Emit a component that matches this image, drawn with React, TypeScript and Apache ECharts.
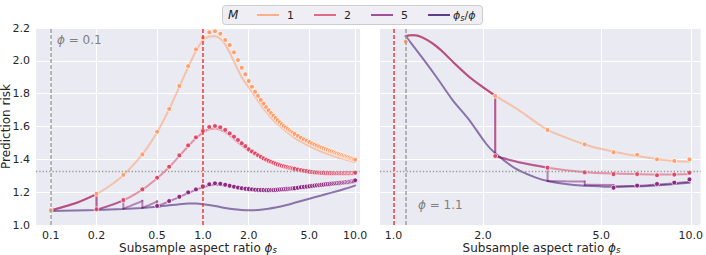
import React, { useEffect, useRef } from 'react';
import * as echarts from 'echarts';

const C1 = '#fe9f6d';
const C2 = '#de4968';
const C5 = '#8c2981';
const CR = '#3b0f70';
const FONT = 'DejaVu Sans';
const PHI = '\u03D5';

// ---------- left panel (phi = 0.1) ----------
const phiL = 0.1;
const tickValsL = [0.1, 0.2, 0.5, 1.0, 2.0, 5.0, 10.0];
const tickValsR = [1.0, 2.0, 5.0, 10.0];
const yTicks = [1.0, 1.2, 1.4, 1.6, 1.8, 2.0, 2.2];

const simPhiL = [
  0.1, 0.2, 0.3, 0.4, 0.5, 0.6, 0.7, 0.8, 0.9, 1.0,
  1.1, 1.2, 1.3, 1.4, 1.5, 1.6, 1.7, 1.8, 1.9, 2.0,
  2.1, 2.2, 2.3, 2.4, 2.5, 2.6, 2.7, 2.8, 2.9, 3.0,
  3.1, 3.2, 3.3, 3.4, 3.5, 3.6, 3.7, 3.8, 3.9, 4.0,
  4.2, 4.4, 4.6, 4.8, 5.0, 5.2, 5.4, 5.6, 5.8, 6.0,
  6.2, 6.4, 6.6, 6.8, 7.0, 7.2, 7.4, 7.6, 7.8, 8.0,
  8.2, 8.4, 8.6, 8.8, 9.0, 9.2, 9.4, 9.6, 9.8, 10.0,
];
const simL_M1 = [
  1.090, 1.190, 1.305, 1.430, 1.568, 1.707, 1.847, 1.968, 2.070, 2.141,
  2.174, 2.180, 2.165, 2.127, 2.096, 2.052, 2.005, 1.958, 1.918, 1.877,
  1.842, 1.812, 1.786, 1.762, 1.739, 1.718, 1.699, 1.682, 1.666, 1.651,
  1.638, 1.626, 1.614, 1.603, 1.594, 1.585, 1.577, 1.569, 1.562, 1.555,
  1.543, 1.532, 1.522, 1.513, 1.505, 1.497, 1.490, 1.484, 1.478, 1.472,
  1.467, 1.462, 1.457, 1.452, 1.448, 1.444, 1.440, 1.436, 1.432, 1.429,
  1.425, 1.422, 1.419, 1.416, 1.413, 1.410, 1.407, 1.404, 1.401, 1.398,
];
const simL_M2 = [
  null, 1.096, 1.152, 1.217, 1.288, 1.355, 1.424, 1.485, 1.534, 1.573,
  1.597, 1.603, 1.595, 1.579, 1.558, 1.538, 1.518, 1.498, 1.480, 1.461,
  1.448, 1.436, 1.425, 1.415, 1.406, 1.398, 1.391, 1.385, 1.379, 1.374,
  1.369, 1.365, 1.361, 1.358, 1.355, 1.352, 1.349, 1.347, 1.344, 1.342,
  1.338, 1.334, 1.331, 1.328, 1.325, 1.323, 1.321, 1.320, 1.319, 1.318,
  1.318, 1.317, 1.317, 1.316, 1.316, 1.315, 1.315, 1.315, 1.315, 1.315,
  1.315, 1.315, 1.316, 1.316, 1.316, 1.316, 1.317, 1.317, 1.317, 1.318,
];
const simL_M5 = [
  null, null, null, null, 1.116, 1.146, 1.172, 1.199, 1.217, 1.235,
  1.248, 1.254, 1.251, 1.245, 1.239, 1.233, 1.228, 1.224, 1.221, 1.219,
  1.217, 1.215, 1.214, 1.213, 1.213, 1.212, 1.212, 1.213, 1.213, 1.214,
  1.215, 1.216, 1.217, 1.218, 1.219, 1.220, 1.221, 1.222, 1.223, 1.224,
  1.227, 1.230, 1.232, 1.234, 1.236, 1.238, 1.240, 1.242, 1.243, 1.245,
  1.246, 1.248, 1.249, 1.250, 1.252, 1.253, 1.254, 1.255, 1.256, 1.257,
  1.258, 1.259, 1.260, 1.261, 1.262, 1.263, 1.265, 1.266, 1.267, 1.272,
];

const thPhiL_M1 = [0.1, 0.15, 0.2, 0.25, 0.3, 0.4, 0.5, 0.6, 0.7, 0.8, 0.9, 1.0, 1.1, 1.2, 1.3, 1.4, 1.5, 1.6, 1.8, 2.0, 2.5, 3.0, 4.0, 5.0, 6.0, 7.0, 8.0, 10.0];
const thL_M1 = [1.088, 1.137, 1.188, 1.245, 1.303, 1.430, 1.565, 1.705, 1.842, 1.962, 2.060, 2.125, 2.148, 2.150, 2.135, 2.100, 2.050, 1.995, 1.900, 1.838, 1.710, 1.625, 1.530, 1.480, 1.447, 1.424, 1.407, 1.382];
const thPhiL_M2 = [0.1, 0.15, 0.2, 0.2, 0.3, 0.4, 0.5, 0.6, 0.7, 0.8, 0.9, 1.0, 1.1, 1.2, 1.3, 1.4, 1.5, 1.7, 2.0, 2.5, 3.0, 4.0, 5.0, 6.0, 7.0, 8.0, 10.0];
const thL_M2 = [1.088, 1.137, 1.188, 1.092, 1.150, 1.215, 1.285, 1.352, 1.420, 1.480, 1.528, 1.563, 1.583, 1.588, 1.580, 1.565, 1.545, 1.503, 1.452, 1.400, 1.368, 1.335, 1.318, 1.311, 1.308, 1.307, 1.310];
const thPhiL_M5 = [0.1, 0.15, 0.2, 0.2, 0.25, 0.3, 0.3, 0.35, 0.4, 0.4, 0.45, 0.5, 0.5, 0.6, 0.7, 0.8, 0.9, 1.0, 1.1, 1.2, 1.3, 1.5, 1.7, 2.0, 2.5, 3.0, 4.0, 5.0, 7.0, 10.0];
const thL_M5 = [1.088, 1.137, 1.188, 1.092, 1.121, 1.150, 1.100, 1.124, 1.147, 1.105, 1.124, 1.144, 1.114, 1.144, 1.170, 1.195, 1.214, 1.229, 1.240, 1.245, 1.243, 1.234, 1.224, 1.214, 1.208, 1.208, 1.218, 1.229, 1.246, 1.263];
const thPhiL_R = [0.1, 0.2, 0.3, 0.4, 0.5, 0.6, 0.7, 0.8, 0.9, 1.0, 1.2, 1.4, 1.6, 1.8, 2.0, 2.3, 2.7, 3.0, 3.5, 4.0, 5.0, 6.0, 7.0, 8.0, 9.0, 10.0];
const thL_R = [1.086, 1.092, 1.098, 1.104, 1.111, 1.120, 1.127, 1.131, 1.131, 1.127, 1.116, 1.104, 1.096, 1.092, 1.090, 1.092, 1.099, 1.106, 1.120, 1.135, 1.160, 1.180, 1.197, 1.212, 1.226, 1.240];

// ---------- right panel (phi = 1.1) ----------
const phiR = 1.1;
const simPhiR = [1.1, 2.2, 3.3, 4.4, 5.5, 6.6, 7.7, 8.8, 9.9];
const simR_M1 = [2.117, 1.786, 1.579, 1.491, 1.443, 1.428, 1.400, 1.390, 1.400];
const simR_M2 = [null, 1.420, 1.349, 1.321, 1.310, 1.310, 1.303, 1.307, 1.318];
const simR_M5 = [null, null, null, null, 1.227, 1.240, 1.250, 1.258, 1.278];

const thPhiR_M1 = [1.1, 1.14, 1.18, 1.25, 1.35, 1.45, 1.6, 1.8, 2.0, 2.2, 2.64, 3.3, 4.4, 5.5, 6.6, 7.7, 8.8, 9.9];
const thR_M1 = [2.151, 2.156, 2.156, 2.143, 2.108, 2.063, 1.987, 1.902, 1.840, 1.788, 1.700, 1.579, 1.490, 1.446, 1.420, 1.402, 1.390, 1.385];
const thPhiR_M2 = [1.1, 1.14, 1.18, 1.25, 1.35, 1.45, 1.6, 1.8, 2.0, 2.2, 2.2, 2.6, 3.3, 4.4, 5.5, 6.6, 7.7, 8.8, 9.9];
const thR_M2 = [2.151, 2.156, 2.156, 2.143, 2.108, 2.063, 1.987, 1.902, 1.840, 1.788, 1.420, 1.385, 1.349, 1.322, 1.313, 1.310, 1.308, 1.308, 1.310];
const thPhiR_M5 = [1.1, 1.14, 1.18, 1.25, 1.35, 1.45, 1.6, 1.8, 2.0, 2.2, 2.2, 2.6, 3.3, 3.3, 3.8, 4.4, 4.4, 5.5, 5.5, 6.6, 7.7, 8.8, 9.9];
const thR_M5 = [2.151, 2.156, 2.156, 2.143, 2.108, 2.063, 1.987, 1.902, 1.840, 1.788, 1.420, 1.385, 1.349, 1.268, 1.266, 1.265, 1.245, 1.243, 1.233, 1.238, 1.246, 1.254, 1.263];
const thPhiR_R = [1.1, 1.25, 1.394, 1.582, 1.798, 2.044, 2.2, 2.57, 3.0, 3.3, 3.8, 4.28, 5.0, 5.5, 6.5, 7.15, 8.5, 9.9];
const thR_R = [2.151, 2.02, 1.903, 1.761, 1.640, 1.498, 1.437, 1.345, 1.290, 1.268, 1.250, 1.240, 1.235, 1.233, 1.236, 1.238, 1.247, 1.258];

const refRisk = 1.333;
const interpLine = 1.0;

const lg = (v: number) => Math.log10(v);
const pts = (xs: number[], ys: (number | null)[]) =>
  xs.map((x, i) => (ys[i] == null ? null : [lg(x), ys[i] as number])).filter((p) => p !== null) as number[][];

// split a curve at vertical jumps (repeated x) so each smooth piece is drawn alone
function segments(xs: number[], ys: number[]) {
  const p = pts(xs, ys);
  const out: { data: number[][]; vertical: boolean }[] = [];
  let cur: number[][] = [p[0]];
  for (let i = 1; i < p.length; i++) {
    if (xs[i] === xs[i - 1]) {
      if (cur.length > 1) out.push({ data: cur, vertical: false });
      out.push({ data: [p[i - 1], p[i]], vertical: true });
      cur = [p[i]];
    } else cur.push(p[i]);
  }
  if (cur.length > 1) out.push({ data: cur, vertical: false });
  return out;
}

function lineS(xs: number[], ys: number[], color: string, g: number, width = 2) {
  return segments(xs, ys).map((sg) => ({
    type: 'line', xAxisIndex: g, yAxisIndex: g, data: sg.data, symbol: 'none', silent: true, z: 3,
    smooth: sg.vertical ? false : 0.2,
    lineStyle: { color, width, opacity: 0.55, cap: 'round' },
  }));
}
function dotS(xs: number[], ys: (number | null)[], color: string, g: number) {
  return {
    type: 'scatter', xAxisIndex: g, yAxisIndex: g, data: pts(xs, ys), symbolSize: 4.8, silent: true, z: 4,
    itemStyle: { color, borderColor: '#ffffff', borderWidth: 0.7, opacity: 1 },
  };
}
function refS(g: number, phi: number) {
  return {
    type: 'line', xAxisIndex: g, yAxisIndex: g, data: [], silent: true, z: 5,
    markLine: {
      silent: true, symbol: 'none', label: { show: false }, animation: false,
      data: [
        { xAxis: lg(phi), lineStyle: { color: '#a0a0a0', type: [4, 2], width: 1.5, opacity: 1 } },
        { xAxis: lg(interpLine), lineStyle: { color: '#f23636', type: [4, 2], width: 1.5, opacity: 1 } },
        { yAxis: refRisk, lineStyle: { color: '#999999', type: [1.3, 2], width: 1.3, opacity: 1 } },
      ],
    },
  };
}

function xAx(g: number, min: number, max: number, ticks: number[]) {
  const cv = ticks.map(lg);
  return {
    type: 'value', gridIndex: g, min, max,
    axisLine: { show: false },
    axisTick: { show: false, customValues: cv },
    axisLabel: {
      customValues: cv, formatter: (v: number) => Math.pow(10, v).toFixed(1),
      color: '#262626', fontSize: 11, fontFamily: FONT, margin: 5, lineHeight: 11,
    },
    splitLine: { show: true, lineStyle: { color: '#ffffff', width: 1 } },
  };
}
function yAx(g: number, showLabels: boolean) {
  return {
    type: 'value', gridIndex: g, min: yTicks[0], max: yTicks[yTicks.length - 1], interval: 0.2,
    axisLine: { show: false }, axisTick: { show: false },
    axisLabel: { show: showLabels, formatter: (v: number) => v.toFixed(1), color: '#262626', fontSize: 11, fontFamily: FONT, margin: 6 },
    splitLine: { show: true, lineStyle: { color: '#ffffff', width: 1 } },
  };
}

const richBase = {
  a: { fontSize: 12, fontFamily: FONT, fill: '#262626', lineHeight: 12 },
  p: { fontSize: 12, fontFamily: FONT, fontStyle: 'italic', fill: '#262626', lineHeight: 12 },
  s: { fontSize: 8.5, fontFamily: FONT, fontStyle: 'italic', fill: '#262626', verticalAlign: 'bottom', lineHeight: 13 },
};

export default function App() {
  const ref = useRef<HTMLDivElement>(null);
  useEffect(() => {
    if (!ref.current) return;
    const chart = echarts.init(ref.current, undefined, { renderer: 'svg' });
    const legendItems = [
      { label: '1', color: C1, x: 257 },
      { label: '2', color: C2, x: 314 },
      { label: '5', color: C5, x: 371 },
    ];
    const annot = (x: number, y: number, val: number) => ({
      type: 'text', x, y, z: 5,
      style: {
        text: '{p|' + PHI + '}{a| = ' + val.toFixed(1) + '}', verticalAlign: 'middle',
        rich: {
          p: { fontSize: 12, fontFamily: FONT, fontStyle: 'italic', fill: '#808080' },
          a: { fontSize: 12, fontFamily: FONT, fill: '#808080' },
        },
      },
    });
    const graphics: any[] = [
      {
        type: 'rect', shape: { x: 222.5, y: 5.5, width: 260, height: 19, r: 3 },
        style: { fill: '#eeeef4', stroke: '#cccccc', lineWidth: 1 }, z: 10,
      },
      {
        type: 'text', x: 228, y: 15, z: 11,
        style: { text: 'M', fontSize: 12, fontFamily: FONT, fontStyle: 'italic', fill: '#262626', verticalAlign: 'middle' },
      },
      ...legendItems.flatMap((it) => [
        { type: 'line', z: 11, shape: { x1: it.x, y1: 15, x2: it.x + 22, y2: 15 }, style: { stroke: it.color, lineWidth: 1.6 } },
        { type: 'text', z: 11, x: it.x + 30, y: 15, style: { text: it.label, fontSize: 11, fontFamily: FONT, fill: '#262626', verticalAlign: 'middle' } },
      ]),
      { type: 'line', z: 11, shape: { x1: 428, y1: 15, x2: 450, y2: 15 }, style: { stroke: CR, lineWidth: 1.6 } },
      {
        type: 'text', z: 11, x: 453, y: 15,
        style: {
          text: '{p|' + PHI + '}{s|s}{a|/}{p|' + PHI + '}', verticalAlign: 'middle',
          rich: {
            a: { fontSize: 11, fontFamily: FONT, fill: '#262626' },
            p: { fontSize: 11, fontFamily: FONT, fontStyle: 'italic', fill: '#262626' },
            s: { fontSize: 8, fontFamily: FONT, fontStyle: 'italic', fill: '#262626', verticalAlign: 'bottom', lineHeight: 15 },
          },
        },
      },
      {
        type: 'text', x: 5.5, y: 126.5, rotation: Math.PI / 2,
        style: { text: 'Prediction risk', fontSize: 12, fontFamily: FONT, fill: '#262626', align: 'center', verticalAlign: 'middle' },
      },
      {
        type: 'text', x: 198, y: 247.5,
        style: { text: '{a|Subsample aspect ratio }{p|' + PHI + '}{s|s}', rich: richBase, align: 'center', verticalAlign: 'middle' },
      },
      {
        type: 'text', x: 541.5, y: 247.5,
        style: { text: '{a|Subsample aspect ratio }{p|' + PHI + '}{s|s}', rich: richBase, align: 'center', verticalAlign: 'middle' },
      },
      annot(57, 40, phiL),
      annot(418, 205, phiR),
    ];

    chart.setOption({
      animation: false,
      backgroundColor: '#ffffff',
      grid: [
        { left: 36, top: 28, width: 324, height: 197, show: true, backgroundColor: '#eaeaf2', borderWidth: 0 },
        { left: 380, top: 28, width: 323, height: 197, show: true, backgroundColor: '#eaeaf2', borderWidth: 0 },
      ],
      xAxis: [xAx(0, -1.0966, 1.032, tickValsL), xAx(1, -0.045, 1.033, tickValsR)],
      yAxis: [yAx(0, true), yAx(1, false)],
      series: [
        refS(0, phiL),
        refS(1, phiR),
        ...lineS(thPhiL_M1, thL_M1, C1, 0),
        ...lineS(thPhiL_M2, thL_M2, C2, 0),
        ...lineS(thPhiL_M5, thL_M5, C5, 0),
        ...lineS(thPhiL_R, thL_R, CR, 0),
        dotS(simPhiL, simL_M1, C1, 0),
        dotS(simPhiL, simL_M2, C2, 0),
        dotS(simPhiL, simL_M5, C5, 0),
        ...lineS(thPhiR_M1, thR_M1, C1, 1),
        ...lineS(thPhiR_M2, thR_M2, C2, 1),
        ...lineS(thPhiR_M5, thR_M5, C5, 1),
        ...lineS(thPhiR_R, thR_R, CR, 1),
        dotS(simPhiR, simR_M1, C1, 1),
        dotS(simPhiR, simR_M2, C2, 1),
        dotS(simPhiR, simR_M5, C5, 1),
      ],
      graphic: graphics,
    });
    return () => chart.dispose();
  }, []);
  return <div ref={ref} style={{ position: 'absolute', left: 0, top: 0, width: 706, height: 255 }} />;
}
